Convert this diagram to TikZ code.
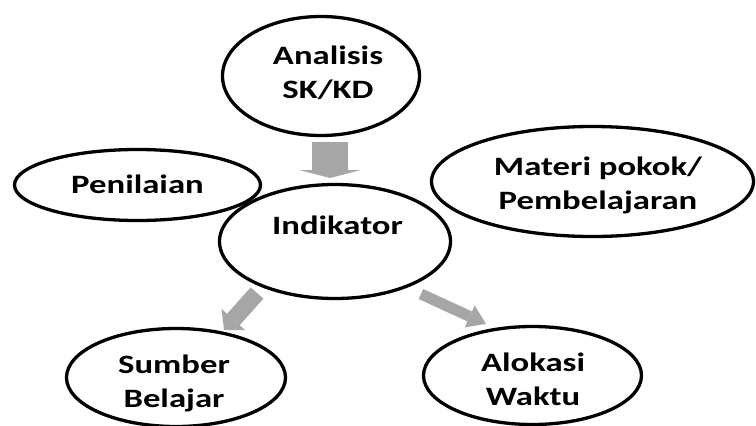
\documentclass[tikz,border=0pt]{standalone}
\usepackage{fontspec}
\newfontfamily\lblfont{Carlito}[FakeStretch=1.31]
\usetikzlibrary{arrows.meta,shapes.geometric}
\newcommand\twoline[2]{\vtop{\baselineskip=34pt\halign{\hfil##\hfil\cr#1\cr#2\cr}}}
\definecolor{arrowgray}{RGB}{166,166,166}
\tikzset{
  oval/.style={ellipse, draw=black, line width=3.3pt, inner sep=0pt, outer sep=0pt},
  lbl/.style={anchor=base, inner sep=0pt, outer sep=0pt, font=\lblfont\bfseries\fontsize{26.5pt}{34pt}\selectfont},
  garrow/.style n args={3}{draw=arrowgray, line width=#1, -{Triangle[width=#2,length=#3,line width=0pt]}}
}
\begin{document}
\begin{tikzpicture}[x=1pt,y=1pt]
\useasboundingbox (0,0) rectangle (756,-426);
% ellipses
\node[oval, minimum width=197pt, minimum height=119pt] (ana) at (321,-76) {};
\node[oval, minimum width=246pt, minimum height=71pt] (pen) at (137.5,-185) {};
\node[oval, minimum width=231pt, minimum height=114pt] (ind) at (335,-241.5) {};
\node[oval, minimum width=322pt, minimum height=110pt] (mat) at (592.5,-181.5) {};
\node[oval, minimum width=219pt, minimum height=98pt] (sum) at (176,-377.5) {};
\node[oval, minimum width=218pt, minimum height=98pt] (alo) at (532.5,-375.5) {};
% texts
\node[lbl] (tana) at (328,-64) {\twoline{Analisis}{SK/KD}};
\node[lbl] (tpen) at (137.5,-193) {Penilaian};
\node[lbl] (tind) at (337.5,-234) {Indikator};
\node[lbl] (tmat) at (598,-175) {\twoline{Materi pokok/}{Pembelajaran}};
\node[lbl] (tsum) at (174,-373) {\twoline{Sumber}{Belajar}};
\node[lbl] (talo) at (533,-371) {\twoline{Alokasi}{Waktu}};
% arrows
\draw[garrow={36pt}{62pt}{8pt}] ([shift={(9pt,-6.5pt)}]ana.south) -- ([shift={(-5pt,6.5pt)}]ind.north);
\draw[garrow={17pt}{32pt}{14pt}] ([shift={(3.7pt,-11.2pt)}]ind.south west) -- ([shift={(-29.4pt,12.9pt)}]sum.north east);
\draw[garrow={11pt}{24pt}{18pt}] ([shift={(4.3pt,-12.2pt)}]ind.south east) -- ([shift={(30.6pt,16.9pt)}]alo.north west);
\end{tikzpicture}
\end{document}
